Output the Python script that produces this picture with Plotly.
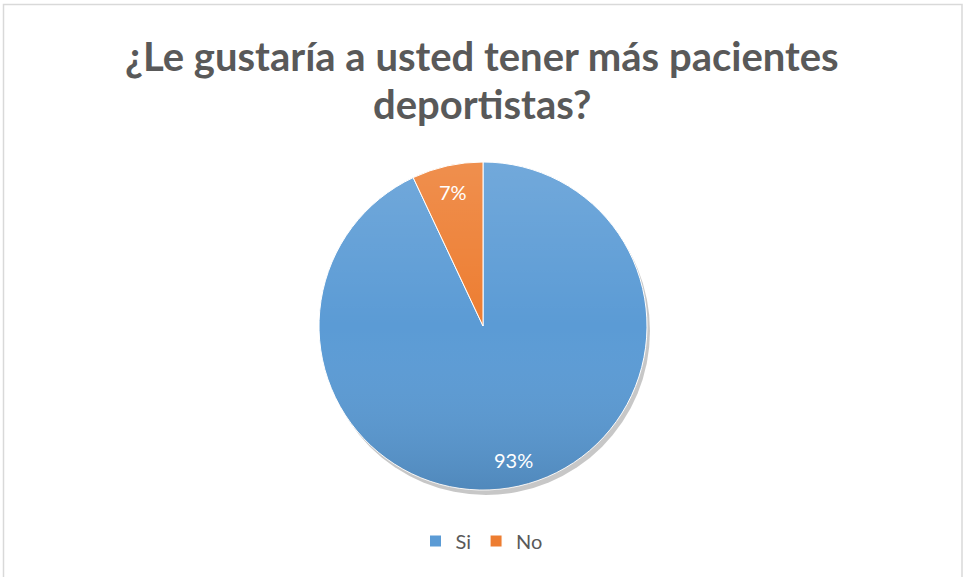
import math
import plotly.graph_objects as go

# Survey answers
categories = ["Si", "No"]
values = [93, 7]
colors = ["#5B9BD5", "#ED7D31"]

title_lines = ["¿Le gustaría a usted tener más pacientes", "deportistas?"]

W, H = 963, 577
cx, cy, R = 483, 326, 164  # pie centre and radius in pixels

def px_x(x):
    return x / W

def px_y(y):
    return 1 - y / H

dom_x = [px_x(cx - R), px_x(cx + R)]
dom_y = [px_y(cy + R), px_y(cy - R)]

fig = go.Figure()

# soft drop shadow behind the pie
fig.add_trace(go.Pie(
    values=[sum(values)],
    marker=dict(colors=["rgba(0,0,0,0.22)"], line=dict(width=0)),
    domain=dict(x=[px_x(cx - R + 3), px_x(cx + R + 3)],
                y=[px_y(cy + R + 5), px_y(cy - R + 5)]),
    textinfo="none", hoverinfo="skip", showlegend=False, sort=False,
))

fig.add_trace(go.Pie(
    labels=categories,
    values=values,
    marker=dict(colors=colors, line=dict(color="white", width=1)),
    domain=dict(x=dom_x, y=dom_y),
    direction="clockwise",
    rotation=0,
    sort=False,
    textinfo="none",
    hoverinfo="label+percent",
))

# gradient sheen over the pie (lighter at top, darker at bottom)
svg = (
    "data:image/svg+xml;utf8,"
    "<svg xmlns='http://www.w3.org/2000/svg' width='200' height='200' viewBox='0 0 200 200'>"
    "<defs><linearGradient id='g' x1='0' y1='0' x2='0' y2='1'>"
    "<stop offset='0' stop-color='white' stop-opacity='0.14'/>"
    "<stop offset='0.5' stop-color='white' stop-opacity='0'/>"
    "<stop offset='1' stop-color='black' stop-opacity='0.12'/>"
    "</linearGradient></defs>"
    "<circle cx='100' cy='100' r='100' fill='url(%23g)'/></svg>"
)
fig.add_layout_image(dict(
    source=svg, xref="paper", yref="paper",
    x=dom_x[0], y=dom_y[1], sizex=dom_x[1] - dom_x[0], sizey=dom_y[1] - dom_y[0],
    xanchor="left", yanchor="top", sizing="stretch", layer="above",
))

# percentage labels placed at each slice's mid-angle
total = sum(values)
acc = 0
for v in values:
    mid = (acc + v / 2) / total * 2 * math.pi
    acc += v
    r = 0.84 * R
    lx = cx + r * math.sin(mid)
    ly = cy - r * math.cos(mid)
    fig.add_annotation(
        x=px_x(lx), y=px_y(ly), xref="paper", yref="paper",
        text=f"{round(100 * v / total)}%", showarrow=False,
        font=dict(family="Lato", size=20, color="white"),
        xanchor="center", yanchor="middle",
    )

for i, (line, ypix) in enumerate(zip(title_lines, [56, 104])):
    fig.add_annotation(
        x=0.5, y=px_y(ypix), xref="paper", yref="paper",
        text=f"<b>{line}</b>", showarrow=False,
        font=dict(family="Lato", size=40, color="#595959"),
        xanchor="center", yanchor="middle",
    )

# chart-area border
fig.add_shape(type="rect", xref="paper", yref="paper",
              x0=px_x(3.5), x1=px_x(962), y0=-0.02, y1=px_y(4.5),
              line=dict(color="#D9D9D9", width=1.5), layer="below")

fig.update_layout(
    width=W, height=H,
    margin=dict(l=0, r=0, t=0, b=0),
    paper_bgcolor="white", plot_bgcolor="white",
    showlegend=True,
    legend=dict(orientation="h", x=0.5, xanchor="center",
                y=px_y(541), yanchor="middle",
                font=dict(family="Lato", size=20, color="#595959"),
                itemwidth=30, traceorder="normal"),
)

fig.write_html("out.html")
